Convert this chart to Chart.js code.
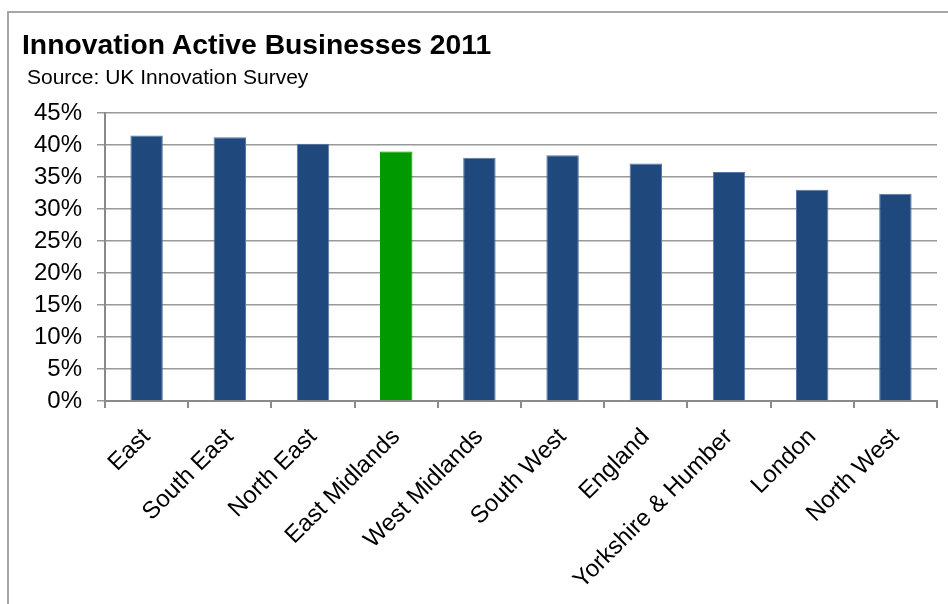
<!DOCTYPE html>
<html>
<head>
<meta charset="utf-8">
<script src="https://cdn.jsdelivr.net/npm/chart.js@4/dist/chart.umd.min.js"></script>
<style>
  html, body { margin: 0; padding: 0; background: #fff; overflow: hidden; }
  #wrap { position: relative; width: 948px; height: 604px; }
  #frame { position: absolute; left: 7px; top: 11px; width: 980px; height: 640px;
           border: 2px solid #a6a6a6; box-sizing: border-box; }
  #title { position: absolute; left: 22px; top: 30px; font: bold 28.3px "Liberation Sans", Arial, sans-serif;
           line-height: 1; color: #000; white-space: nowrap; }
  #sub { position: absolute; left: 27px; top: 66px; font: 21px "Liberation Sans", Arial, sans-serif;
         line-height: 1; color: #000; white-space: nowrap; }
  canvas { position: absolute; left: 0; top: 0; }
</style>
</head>
<body>
<div id="wrap">
  <div id="frame"></div>
  <canvas id="graph" width="948" height="604"></canvas>
  <div id="title">Innovation Active Businesses 2011</div>
  <div id="sub">Source: UK Innovation Survey</div>
</div>
<script>
// regions and share of innovation active businesses (%)
var regions = ['East', 'South East', 'North East', 'East Midlands', 'West Midlands',
               'South West', 'England', 'Yorkshire & Humber', 'London', 'North West']
var shares = [41.5, 41.2, 40.2, 39.0, 38.0, 38.4, 37.1, 35.8, 33.0, 32.4]
var yTicks = [0, 5, 10, 15, 20, 25, 30, 35, 40, 45]

var highlight = 'East Midlands'
var blue = '#1f497d'
var green = '#009900'

var ctx = document.getElementById('graph').getContext('2d')

var data = {
    labels: regions,
    datasets: [
        {
            label: 'Innovation active',
            data: shares,
            backgroundColor: regions.map(function (r) { return r === highlight ? green : blue }),
            borderColor: regions.map(function (r) { return r === highlight ? green : '#5878a3' }),
            borderWidth: 1,
            barPercentage: 0.39,
            categoryPercentage: 1
        }
    ]
}

var font = { family: '"Liberation Sans", Arial, sans-serif', size: 24 }

var options = {
    responsive: false,
    animation: false,
    layout: { padding: { left: 0, top: 113, right: 11, bottom: 0 } },
    plugins: {
        legend: { display: false },
        tooltip: { enabled: false }
    },
    scales: {
        x: {
            grid: { offset: true, drawOnChartArea: false, color: '#8a8a8a', lineWidth: 2, tickLength: 7 },
            border: { color: '#8a8a8a', width: 2 },
            ticks: { color: '#000', font: font, minRotation: 45, maxRotation: 45, padding: 15, autoSkip: false },
            afterFit: function (scale) { scale.height = 203 }
        },
        y: {
            min: 0,
            max: 45,
            afterBuildTicks: function (scale) {
                scale.ticks = yTicks.map(function (v) { return { value: v } })
            },
            grid: { color: '#999999', lineWidth: 1.5, tickLength: 8 },
            border: { color: '#8a8a8a', width: 2 },
            ticks: {
                color: '#000', font: font, padding: 15,
                callback: function (v) { return v + '%' }
            },
            afterFit: function (scale) { scale.width = 105 }
        }
    }
}

var config = {
    type: 'bar',
    data: data,
    options: options
}

var graph = new Chart(ctx, config)
</script>
</body>
</html>
